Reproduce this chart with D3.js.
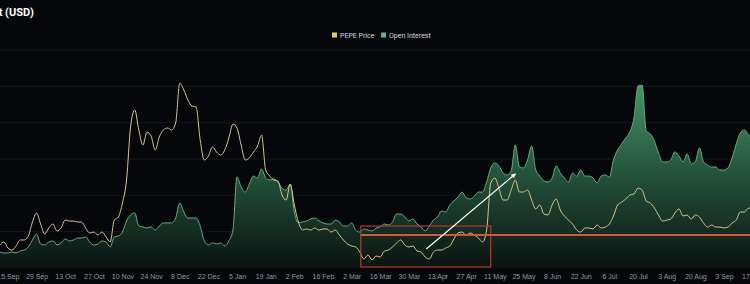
<!DOCTYPE html>
<html>
<head>
<meta charset="utf-8">
<script src="https://cdn.jsdelivr.net/npm/d3@7"></script>
<style>
    body { margin: 0; background: #05070b; overflow: hidden; }
    svg { display: block; font-family: Roboto, "Noto Sans", sans-serif; }
</style>
</head>
<body>
<script>
// PEPE price, USD x 1e-6, one value every 2 days starting 11 Sep
var pepePrice = [
    6.95, 7.34, 6.57, 6.31, 6.82, 7.60, 7.60, 8.11, 9.91, 11.06,
    9.65, 8.37, 9.14, 9.65, 8.75, 9.14, 10.16, 10.03, 10.03, 9.91,
    9.91, 9.14, 8.49, 8.62, 8.24, 8.62, 7.98, 7.34, 10.16, 10.55,
    12.35, 15.30, 22.23, 24.29, 21.72, 19.79, 21.46, 20.95, 19.15, 20.82,
    21.72, 21.98, 21.72, 22.62, 27.75, 26.86, 25.57, 24.80, 24.67, 20.44,
    17.87, 18.38, 19.54, 18.89, 18.51, 19.15, 20.69, 22.49, 21.98, 19.79,
    17.87, 18.12, 18.89, 19.66, 21.08, 16.58, 15.81, 15.30, 15.17, 13.37,
    12.73, 14.79, 12.09, 9.91, 8.88, 9.01, 8.88, 9.14, 8.88, 9.01,
    9.01, 8.62, 8.88, 8.24, 7.60, 7.08, 6.82, 6.70, 6.05, 5.16,
    5.67, 5.03, 5.54, 5.41, 6.18, 6.31, 6.70, 7.21, 7.60, 6.95,
    6.70, 6.82, 6.18, 6.05, 5.41, 5.16, 6.05, 6.31, 6.31, 6.57,
    6.82, 7.72, 8.49, 8.62, 8.24, 8.49, 8.24, 7.85, 7.34, 8.88,
    14.91, 15.56, 14.27, 12.73, 12.73, 14.02, 15.30, 13.76, 13.76, 14.02,
    12.73, 11.58, 12.09, 10.93, 10.81, 12.09, 12.86, 11.45, 10.68, 10.16,
    9.65, 8.88, 8.62, 9.14, 9.14, 9.01, 9.52, 9.14, 9.26, 9.65,
    10.68, 12.09, 12.47, 12.86, 13.37, 13.50, 14.27, 14.02, 12.60, 12.35,
    11.70, 10.81, 10.03, 10.16, 10.29, 11.06, 11.58, 10.68, 10.81, 10.29,
    10.81, 10.55, 9.78, 9.26, 9.52, 9.26, 9.26, 9.14, 9.26, 9.78,
    10.16, 11.19, 11.19, 11.70, 11.45
];

// open interest, million USD, same days
var openInterest = [
    88, 83, 83, 88, 83, 94, 99, 116, 154, 187,
    132, 127, 143, 149, 127, 138, 160, 149, 154, 165,
    165, 171, 143, 127, 132, 149, 143, 116, 171, 176,
    198, 259, 292, 303, 231, 226, 220, 226, 209, 231,
    248, 248, 248, 275, 358, 308, 275, 275, 275, 231,
    149, 127, 138, 132, 138, 121, 149, 209, 501, 446,
    418, 462, 506, 495, 545, 495, 484, 490, 473, 440,
    429, 462, 308, 248, 253, 259, 270, 275, 259, 248,
    242, 242, 264, 253, 231, 231, 248, 209, 198, 215,
    209, 204, 220, 226, 242, 237, 253, 297, 297, 281,
    259, 270, 242, 226, 204, 231, 264, 281, 314, 308,
    347, 369, 391, 418, 385, 380, 396, 418, 418, 473,
    551, 578, 562, 523, 512, 534, 677, 556, 551, 595,
    672, 539, 506, 479, 473, 495, 562, 523, 495, 473,
    523, 506, 539, 506, 506, 495, 468, 506, 512, 501,
    595, 650, 683, 716, 749, 826, 1002, 1007, 754, 738,
    699, 633, 584, 584, 595, 639, 617, 584, 628, 573,
    584, 661, 584, 567, 556, 556, 539, 539, 551, 606,
    683, 743, 760, 732, 721
];

// x axis labels, one every 14 days from 15 Sep
var tickLabels = ["15 Sep", "29 Sep", "13 Oct", "27 Oct", "10 Nov", "24 Nov", "8 Dec", "22 Dec",
    "5 Jan", "19 Jan", "2 Feb", "16 Feb", "2 Mar", "16 Mar", "30 Mar", "13 Apr", "27 Apr",
    "11 May", "25 May", "8 Jun", "22 Jun", "6 Jul", "20 Jul", "3 Aug", "20 Aug", "3 Sep", "17 Sep"];

// open interest gridlines (million USD)
var oiTicks = [200, 400, 600, 800, 1000, 1200];

// annotations: accumulation box, support level, breakout arrow (days / price units)
var boxDays = [176.5, 240];
var boxPrice = [4.13, 9.39];
var supportPrice = 8.24;
var supportDays = [176.5, 368];
var arrowDays = [208.5, 252];
var arrowPrice = [6.44, 16.07];

function init() {
    var svg, xScale, yPrice, yOI, defs, grad, area, line, legend, xAxisG;

    const width = 750;
    const height = 284;
    const top = 50, bottom = 268;

    svg = d3.select("body")
        .append("svg")
        .attr("width", width)
        .attr("height", height);

    //scales
    xScale = d3.scaleLinear().domain([0, 368]).range([-0.3, 752.6]);
    yPrice = d3.scaleLinear().domain([4, 32]).range([bottom, top]);
    yOI = d3.scaleLinear().domain([0, 1200]).range([bottom, top]);

    //gradient for the open interest area
    defs = svg.append("defs");
    grad = defs.append("linearGradient")
        .attr("id", "oiFill")
        .attr("gradientUnits", "userSpaceOnUse")
        .attr("x1", 0).attr("x2", 0)
        .attr("y1", yOI(1100)).attr("y2", yOI(0));
    grad.append("stop").attr("offset", "0%").attr("stop-color", "#4f9e72");
    grad.append("stop").attr("offset", "55%").attr("stop-color", "#23503b");
    grad.append("stop").attr("offset", "100%").attr("stop-color", "#0a1311");

    defs.append("marker")
        .attr("id", "arrowHead")
        .attr("viewBox", "0 0 10 10")
        .attr("refX", 8).attr("refY", 5)
        .attr("markerWidth", 4).attr("markerHeight", 4)
        .attr("orient", "auto")
        .append("path")
        .attr("d", "M0,0L10,5L0,10z")
        .attr("fill", "#ffffff");

    //gridlines
    svg.append("g")
        .selectAll("line")
        .data(oiTicks)
        .enter()
        .append("line")
        .attr("x1", 0)
        .attr("x2", width)
        .attr("y1", function (d) { return yOI(d); })
        .attr("y2", function (d) { return yOI(d); })
        .style("stroke", "#15181f")
        .style("stroke-width", 1);

    //open interest area
    area = d3.area()
        .x(function (d, i) { return xScale(i * 2); })
        .y0(yOI(0))
        .y1(function (d) { return yOI(d); })
        .curve(d3.curveMonotoneX);

    svg.append("path")
        .datum(openInterest)
        .attr("d", area)
        .style("fill", "url(#oiFill)");

    line = d3.line()
        .x(function (d, i) { return xScale(i * 2); })
        .curve(d3.curveMonotoneX);

    svg.append("path")
        .datum(openInterest)
        .attr("d", line.y(function (d) { return yOI(d); }))
        .style("fill", "none")
        .style("stroke", "#62ad82")
        .style("stroke-width", 1);

    //price line
    svg.append("path")
        .datum(pepePrice)
        .attr("d", line.y(function (d) { return yPrice(d); }))
        .style("fill", "none")
        .style("stroke", "#d8c48d")
        .style("stroke-width", 1);

    //x axis
    xAxisG = svg.append("g")
        .attr("transform", "translate(0," + 271 + ")")
        .call(d3.axisBottom(xScale)
            .tickValues(tickLabels.map(function (d, i) { return 4 + i * 14; }))
            .tickFormat(function (d, i) { return tickLabels[i]; })
            .tickSize(0));
    xAxisG.select(".domain").remove();
    xAxisG.selectAll("text")
        .attr("fill", "#9499a0")
        .style("font-size", "7px");

    //annotations
    svg.append("rect")
        .attr("x", xScale(boxDays[0]))
        .attr("y", yPrice(boxPrice[1]))
        .attr("width", xScale(boxDays[1]) - xScale(boxDays[0]))
        .attr("height", yPrice(boxPrice[0]) - yPrice(boxPrice[1]))
        .style("fill", "none")
        .style("stroke", "#b83a2c")
        .style("stroke-width", 1.2);

    svg.append("line")
        .attr("x1", xScale(supportDays[0]))
        .attr("x2", xScale(supportDays[1]))
        .attr("y1", yPrice(supportPrice))
        .attr("y2", yPrice(supportPrice))
        .style("stroke", "#d45a36")
        .style("stroke-width", 2);

    svg.append("line")
        .attr("x1", xScale(arrowDays[0]))
        .attr("y1", yPrice(arrowPrice[0]))
        .attr("x2", xScale(arrowDays[1]))
        .attr("y2", yPrice(arrowPrice[1]))
        .attr("marker-end", "url(#arrowHead)")
        .style("stroke", "#ffffff")
        .style("stroke-width", 1.2);

    //title, cut off at the left edge like the source
    svg.append("text")
        .attr("x", 34)
        .attr("y", 16)
        .attr("text-anchor", "end")
        .style("fill", "#ffffff")
        .style("font-size", "11px")
        .style("font-weight", "bold")
        .text("PEPE Price vs Open Interest (USD)");

    //legend
    legend = svg.append("g").attr("transform", "translate(332,35)");
    legend.append("rect").attr("x", 0).attr("y", -2.5).attr("width", 5).attr("height", 5).style("fill", "#e5c66f");
    legend.append("text").attr("x", 8).attr("y", 2.5).style("fill", "#d6d8db").style("font-size", "7px").text("PEPE Price");
    legend.append("rect").attr("x", 49).attr("y", -2.5).attr("width", 5).attr("height", 5).style("fill", "#5fb381");
    legend.append("text").attr("x", 57).attr("y", 2.5).style("fill", "#d6d8db").style("font-size", "7px").text("Open Interest");
}

window.onload = init;
</script>
</body>
</html>
